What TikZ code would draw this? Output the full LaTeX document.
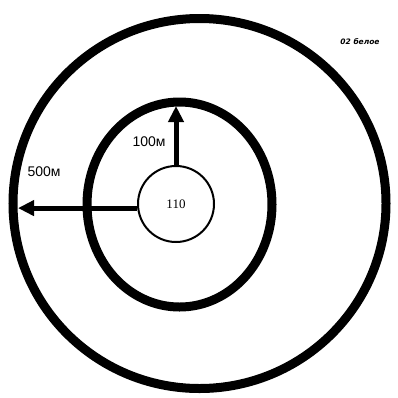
\documentclass[tikz,border=0pt]{standalone}
\usepackage{fontspec}
\setmainfont{Liberation Serif}
\newfontfamily\labelfont{Liberation Sans}
\newfontfamily\notefont{DejaVu Sans}
\usetikzlibrary{arrows.meta}

\begin{document}
\begin{tikzpicture}[x=1pt,y=-1pt]
\useasboundingbox (0,0) rectangle (398,397);
% rings
\draw[line width=9pt] (199.5,203.5) ellipse [x radius=186.5pt, y radius=185pt];
\draw[line width=9pt] (179.5,204.5) ellipse [x radius=92.5pt, y radius=102.5pt];
\node[circle, draw, line width=2pt, minimum size=76pt, inner sep=0pt, font=\fontsize{13}{13}\selectfont] (c110) at (176,204) {110};
\coordinate (midtop) at (176,106);
\coordinate (outleft) at (18,0);
% distances
\draw[line width=5pt, -{Triangle[width=15pt,length=16pt]}] (c110.north) -- (midtop);
\draw[line width=5pt, -{Triangle[width=15pt,length=16pt]}] (c110.186) -- (c110.186 -| outleft);
\node[font=\labelfont\fontsize{14}{14}\selectfont] (lab100) at (149,142) {100м};
\node[font=\labelfont\fontsize{14}{14}\selectfont] (lab500) at (44,172) {500м};
\node[font=\notefont\bfseries\itshape\fontsize{7.5}{8}\selectfont] (note) at (360,42) {02 белое};
\end{tikzpicture}
\end{document}
